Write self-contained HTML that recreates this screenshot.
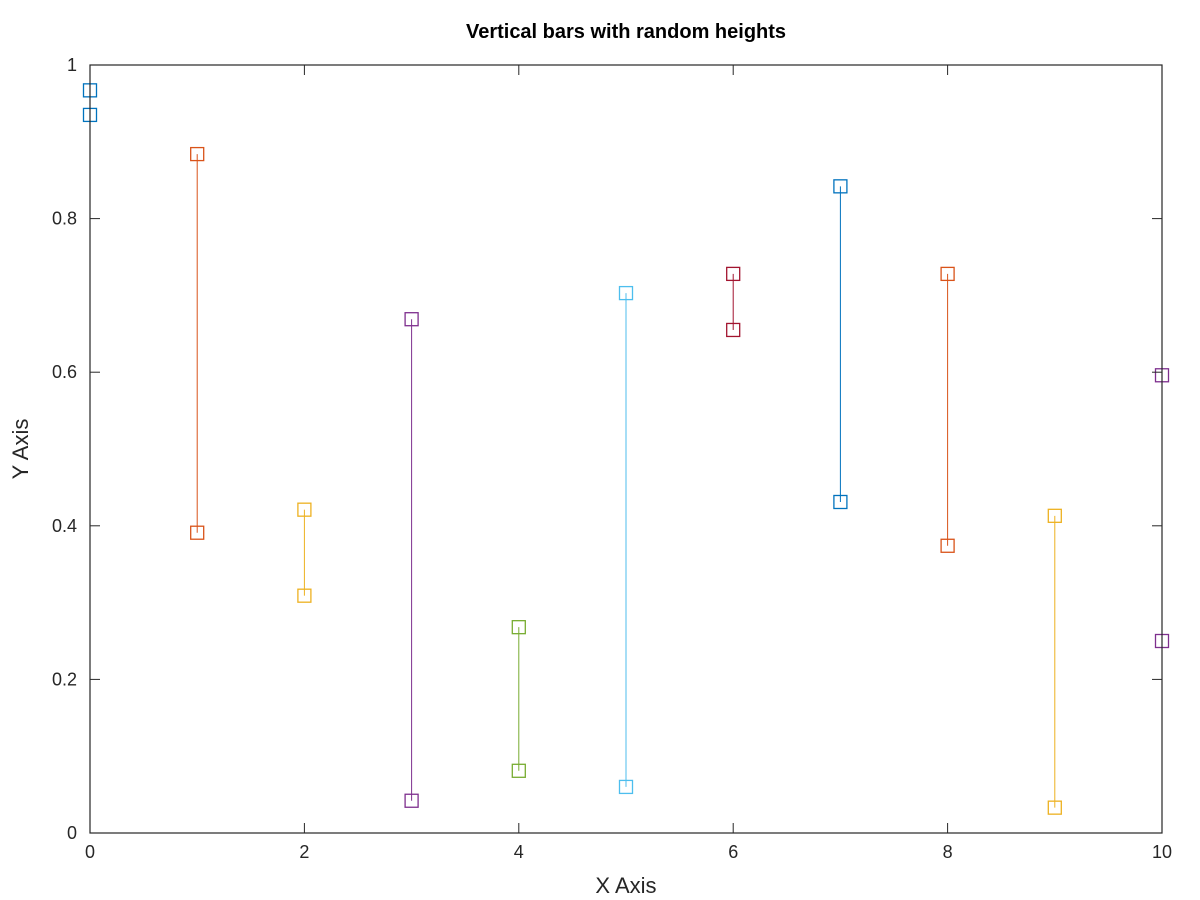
<!DOCTYPE html>
<html><head><meta charset="utf-8"><style>
body{margin:0;background:#fff;}
svg{display:block;font-family:"Liberation Sans",sans-serif;}
</style></head><body>
<svg id="chart" width="1200" height="900" viewBox="0 0 1200 900" xmlns="http://www.w3.org/2000/svg">
<rect width="1200" height="900" fill="#fff"/>
<text x="626" y="38" text-anchor="middle" font-size="20" font-weight="bold" fill="#000">Vertical bars with random heights</text>
<g id="marks"></g>
<rect x="90" y="65" width="1072" height="768" fill="none" stroke="#262626" stroke-width="1.2"/>
<g id="axes"></g>
<text x="626" y="893" text-anchor="middle" font-size="22" fill="#262626">X Axis</text>
<text transform="translate(28,449) rotate(-90)" text-anchor="middle" font-size="22" fill="#262626">Y Axis</text>
</svg>
<script>
const xs=[0,1,2,3,4,5,6,7,8,9,10];
const lows=[0.935,0.391,0.309,0.042,0.081,0.060,0.655,0.431,0.374,0.033,0.250];
const highs=[0.967,0.884,0.421,0.669,0.268,0.703,0.728,0.842,0.728,0.413,0.596];
const xTicks=[0,2,4,6,8,10];
const yTicks=[0,0.2,0.4,0.6,0.8,1];
const yTickLabels=["0","0.2","0.4","0.6","0.8","1"];
const colors=["#0072bd","#d95319","#edb120","#7e2f8e","#77ac30","#4dbeee","#a2142f"];
const NS="http://www.w3.org/2000/svg";
const X=v=>90+v*107.2, Y=v=>833-v*768;
function mk(t,a,p){const e=document.createElementNS(NS,t);for(const k in a)e.setAttribute(k,a[k]);p.appendChild(e);return e;}
const ax=document.getElementById('axes'), mg=document.getElementById('marks');
xTicks.forEach(v=>{
  const x=X(v);
  let t=mk('line',{x1:x,y1:833,x2:x,y2:823,stroke:'#262626'},ax);
  
  t=mk('line',{x1:x,y1:65,x2:x,y2:75,stroke:'#262626'},ax);
  
  const l=mk('text',{x:x,y:858,'text-anchor':'middle','font-size':18,fill:'#262626'},ax);
  
  l.textContent=String(v);
});
yTicks.forEach((v,i)=>{
  const y=Y(v);
  let t=mk('line',{x1:90,y1:y,x2:100,y2:y,stroke:'#262626'},ax);
  
  t=mk('line',{x1:1162,y1:y,x2:1152,y2:y,stroke:'#262626'},ax);
  
  const l=mk('text',{x:77,y:y+6,'text-anchor':'end','font-size':18,fill:'#262626'},ax);
  
  l.textContent=yTickLabels[i];
});
xs.forEach((v,i)=>{
  const c=colors[i%colors.length], x=X(v);
  const g=mk('g',{},mg);
  
  mk('line',{x1:x,y1:Y(lows[i]),x2:x,y2:Y(highs[i]),stroke:c,'stroke-width':1},g);
  [lows[i],highs[i]].forEach(val=>{
    const r=mk('rect',{x:x-6.5,y:Y(val)-6.5,width:13,height:13,fill:'none',stroke:c,'stroke-width':1.3},g);
    
  });
});
</script>
</body></html>
